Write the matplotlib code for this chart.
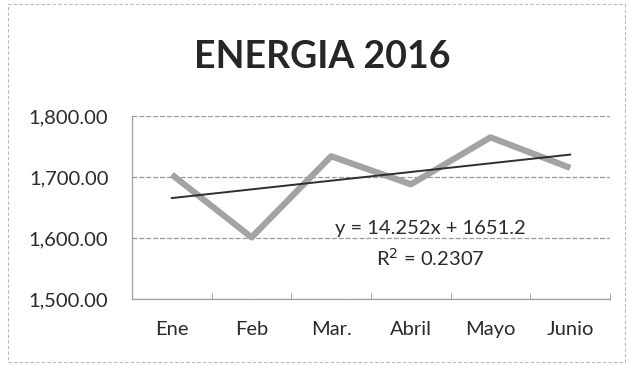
import matplotlib
matplotlib.use("Agg")
import matplotlib.pyplot as plt
from matplotlib.patches import Rectangle
import numpy as np

plt.rcParams['font.family'] = ['Lato', 'DejaVu Sans']

# Monthly energy data
months = ["Ene", "Feb", "Mar.", "Abril", "Mayo", "Junio"]
energy = [1704, 1601, 1734, 1688, 1765, 1715]

# Linear trend (Excel-style) coefficients
trend_slope = 14.252
trend_intercept = 1651.2
trend_r2 = 0.2307

y_ticks = [1500, 1600, 1700, 1800]

fig = plt.figure(figsize=(6.29, 3.65), dpi=100)
fig.patches.append(Rectangle((0.013, 0.008), 0.98, 0.98, transform=fig.transFigure,
                             fill=False, edgecolor="#b8b8b8", lw=0.8, linestyle=(0, (3, 2))))

ax = fig.add_axes([132/629, 1-299/365, 478/629, 183/365])

x = np.arange(1, len(months) + 1)
ax.plot(x, energy, color="#a3a3a3", lw=4.5, solid_capstyle="butt", zorder=3)

xt = np.array([x[0], x[-1]])
ax.plot(xt, trend_slope * xt + trend_intercept, color="#2e2e2e", lw=1.4, zorder=4)

ax.set_xlim(0.5, len(months) + 0.5)
ax.set_ylim(1500, 1800)
ax.set_yticks(y_ticks)
ax.set_yticklabels([f"{v:,.2f}" for v in y_ticks], fontsize=14.5, color="#2a2a2a")
ax.set_xticks(x)
ax.set_xticklabels(months, fontsize=14.5, color="#2a2a2a")
ax.tick_params(axis="x", length=0, pad=16)
ax.tick_params(axis="y", length=0, pad=17)
ax.set_xticks(np.arange(0.5, len(months) + 1.0, 1.0), minor=True)
ax.tick_params(axis="x", which="minor", length=4, color="#999999", direction="in")

ax.grid(axis="y", color="#9a9a9a", lw=0.9, linestyle=(0, (4, 1.5)))
ax.set_axisbelow(True)
for side in ["top", "right"]:
    ax.spines[side].set_visible(False)
ax.spines["left"].set_color("#a0a0a0")
ax.spines["bottom"].set_color("#a0a0a0")
ax.spines["left"].set_linewidth(0.9)
ax.spines["bottom"].set_linewidth(0.9)

ax.text(4.24, 1616, f"y = {trend_slope:g}x + {trend_intercept:g}", fontsize=14.5,
        color="#2a2a2a", ha="center", va="center")
ax.text(4.24, 1567, f"R$^2$ = {trend_r2:g}", fontsize=14.5,
        color="#2a2a2a", ha="center", va="center")

fig.text(322/629, 1-57/365, "ENERGIA 2016", fontsize=27, fontweight="bold",
         color="#262626", ha="center", va="center")

fig.savefig("out.png", dpi=100)
